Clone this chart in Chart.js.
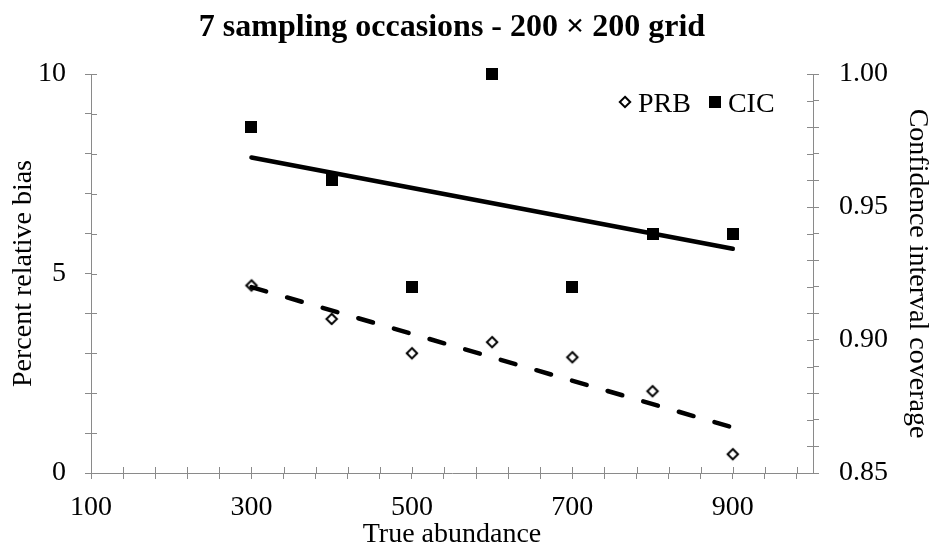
<!DOCTYPE html>
<html>
<head>
<meta charset="utf-8">
<script src="https://cdn.jsdelivr.net/npm/chart.js@4"></script>
<style>
  html, body { margin: 0; padding: 0; background: #fff; }
  #wrap { width: 936px; height: 554px; }
</style>
</head>
<body>
<div id="wrap"><canvas id="chart" width="936" height="554"></canvas></div>
<script>
// values
const abundance = [300, 400, 500, 600, 700, 800, 900];
const prbValues = [4.70, 3.86, 3.00, 3.28, 2.90, 2.05, 0.47];
const cicValues = [0.98, 0.96, 0.92, 1.00, 0.92, 0.94, 0.94];

// trend line end points (at 300 and 900)
const trendX = [300, 900];
const prbTrend = [4.66, 1.14];
const cicTrend = [0.9686, 0.9343];

const xLabels = [100, 300, 500, 700, 900];
const leftLabels = [0, 5, 10];
const rightLabels = [0.85, 0.90, 0.95, 1.00];

const FONT = "'Liberation Serif', 'Times New Roman', serif";
const GREY = '#8a8a8a';

// marker images (same look in plot and legend)
function diamondMarker() {
    const c = document.createElement('canvas');
    c.width = 16; c.height = 16;
    const g = c.getContext('2d');
    const r = 5.2;
    g.beginPath();
    g.moveTo(8, 8 - r); g.lineTo(8 + r, 8); g.lineTo(8, 8 + r); g.lineTo(8 - r, 8);
    g.closePath();
    g.fillStyle = '#fff';
    g.fill();
    g.lineWidth = 2;
    g.strokeStyle = '#000';
    g.stroke();
    return c;
}
function squareMarker() {
    const c = document.createElement('canvas');
    c.width = 12; c.height = 12;
    const g = c.getContext('2d');
    g.fillStyle = '#000';
    g.fillRect(0, 0, 12, 12);
    return c;
}

const pts = (xs, ys) => xs.map((x, i) => ({ x: x, y: ys[i] }));

// Excel style cross ticks: draw the inner half of each tick mark
const crossTicks = {
    id: 'crossTicks',
    afterDraw(chart) {
        const ctx = chart.ctx;
        const a = chart.chartArea;
        const len = 6;
        ctx.save();
        ctx.strokeStyle = GREY;
        ctx.lineWidth = 1;
        ctx.beginPath();
        chart.scales.x.ticks.forEach(t => {
            const px = Math.round(chart.scales.x.getPixelForValue(t.value)) + 0.5;
            ctx.moveTo(px, a.bottom - len); ctx.lineTo(px, a.bottom);
        });
        chart.scales.y.ticks.forEach(t => {
            const py = Math.round(chart.scales.y.getPixelForValue(t.value)) + 0.5;
            ctx.moveTo(a.left, py); ctx.lineTo(a.left + len, py);
        });
        chart.scales.y2.ticks.forEach(t => {
            const py = Math.round(chart.scales.y2.getPixelForValue(t.value)) + 0.5;
            ctx.moveTo(a.right - len, py); ctx.lineTo(a.right, py);
        });
        ctx.stroke();
        ctx.restore();
    }
};

// legend inside the plot, top right, one row
const insideLegend = {
    id: 'insideLegend',
    afterDraw(chart) {
        const ctx = chart.ctx;
        const items = chart.data.datasets.filter(d => d.label);
        let x = 625;
        const y = 102;
        ctx.save();
        ctx.font = '28px ' + FONT;
        ctx.fillStyle = '#000';
        ctx.textBaseline = 'alphabetic';
        items.forEach(d => {
            const m = d.pointStyle;
            ctx.drawImage(m, Math.round(x - m.width / 2), Math.round(y - m.height / 2));
            x += 13;
            ctx.fillText(d.label, x, 112);
            x += ctx.measureText(d.label).width + 24;
        });
        ctx.restore();
    }
};

new Chart(document.getElementById('chart'), {
    type: 'scatter',
    data: {
        datasets: [
            {
                label: 'PRB',
                data: pts(abundance, prbValues),
                yAxisID: 'y',
                pointStyle: diamondMarker(),
                pointRadius: 6,
                showLine: false,
                clip: false,
                order: 1
            },
            {
                label: 'CIC',
                data: pts(abundance, cicValues),
                yAxisID: 'y2',
                pointStyle: squareMarker(),
                pointRadius: 6,
                showLine: false,
                clip: false,
                order: 1
            },
            {
                label: '',
                type: 'line',
                data: pts(trendX, prbTrend),
                yAxisID: 'y',
                borderColor: '#000',
                borderWidth: 4.5,
                borderDash: [15.3, 21.8],
                borderCapStyle: 'round',
                pointRadius: 0,
                order: 0
            },
            {
                label: '',
                type: 'line',
                data: pts(trendX, cicTrend),
                yAxisID: 'y2',
                borderColor: '#000',
                borderWidth: 4.5,
                borderCapStyle: 'round',
                pointRadius: 0,
                order: 0
            }
        ]
    },
    options: {
        responsive: false,
        animation: false,
        devicePixelRatio: 1,
        layout: { padding: 0 },
        plugins: {
            title: {
                display: true,
                fullSize: false,
                text: '7 sampling occasions - 200 × 200 grid',
                color: '#000',
                font: { family: FONT, size: 32, weight: 'bold' },
                padding: { top: 9, bottom: 26.6 }
            },
            legend: { display: false },
            tooltip: { enabled: false }
        },
        scales: {
            x: {
                type: 'linear',
                min: 100,
                max: 1000,
                afterBuildTicks: s => {
                    const t = [];
                    for (let v = 100; v < 1000; v += 40) t.push({ value: v });
                    s.ticks = t;
                },
                afterFit: s => { s.height = 81; },
                ticks: {
                    autoSkip: false,
                    maxRotation: 0,
                    padding: 12,
                    color: '#000',
                    font: { family: FONT, size: 28 },
                    callback: v => xLabels.includes(v) ? String(v) : ''
                },
                grid: { drawOnChartArea: false, drawTicks: true, tickLength: 6, color: GREY },
                border: { display: true, color: GREY },
                title: {
                    display: true,
                    text: 'True abundance',
                    color: '#000',
                    font: { family: FONT, size: 28 },
                    padding: { top: 0, bottom: 3 }
                }
            },
            y: {
                position: 'left',
                min: 0,
                max: 10,
                afterFit: s => { s.width = 91; },
                ticks: {
                    stepSize: 1,
                    autoSkip: false,
                    padding: 19,
                    color: '#000',
                    font: { family: FONT, size: 28 },
                    callback: v => leftLabels.includes(v) ? String(v) : ''
                },
                grid: { drawOnChartArea: false, drawTicks: true, tickLength: 6, color: GREY },
                border: { display: true, color: GREY },
                title: {
                    display: true,
                    text: 'Percent relative bias',
                    color: '#000',
                    font: { family: FONT, size: 28 },
                    padding: { top: 7, bottom: 0 }
                }
            },
            y2: {
                position: 'right',
                min: 0.85,
                max: 1.0,
                afterFit: s => { s.width = 123; },
                ticks: {
                    stepSize: 0.01,
                    autoSkip: false,
                    padding: 20,
                    color: '#000',
                    font: { family: FONT, size: 28 },
                    callback: v => rightLabels.some(r => Math.abs(r - v) < 1e-6) ? v.toFixed(2) : ''
                },
                grid: { drawOnChartArea: false, drawTicks: true, tickLength: 6, color: GREY },
                border: { display: true, color: GREY },
                title: {
                    display: true,
                    text: 'Confidence interval coverage',
                    color: '#000',
                    font: { family: FONT, size: 28 },
                    padding: { top: 2, bottom: 0 }
                }
            }
        }
    },
    plugins: [crossTicks, insideLegend]
});
</script>
</body>
</html>
